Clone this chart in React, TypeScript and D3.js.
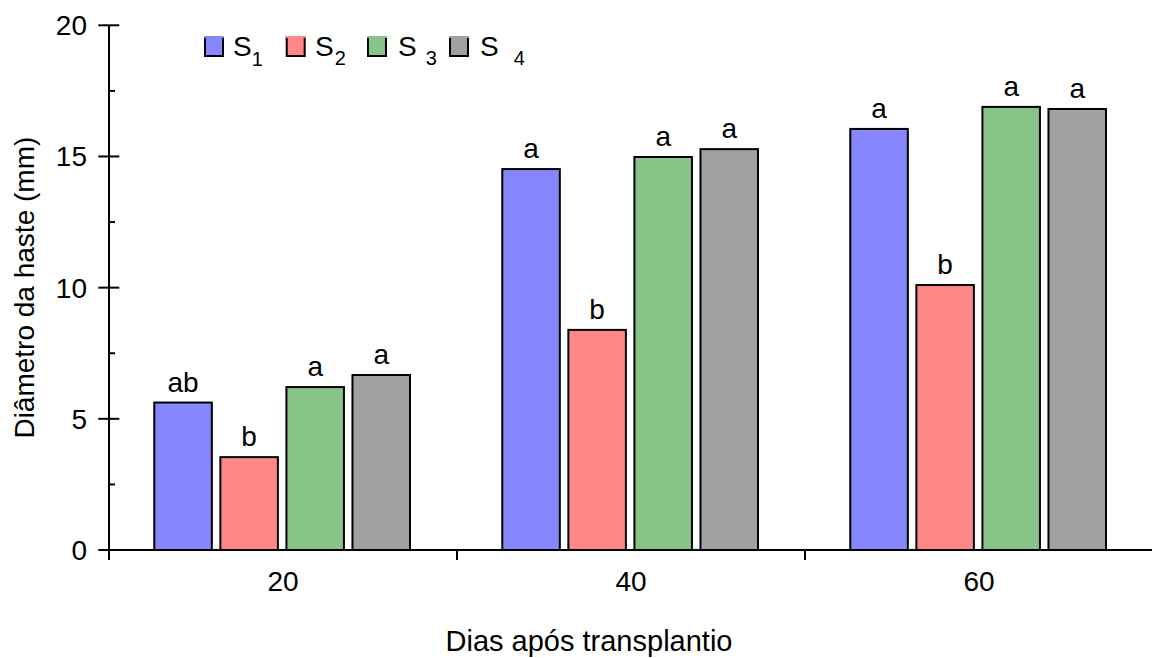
import React from "react";
import * as d3 from "d3";

// Stem diameter (mm) by days after transplanting, four substrates
const days = ["20", "40", "60"];
const seriesNames = ["S1", "S2", "S3", "S4"];
const s1Values = [5.62, 14.52, 16.05];
const s2Values = [3.54, 8.39, 10.1];
const s3Values = [6.21, 14.98, 16.89];
const s4Values = [6.67, 15.28, 16.81];
const s1Letters = ["ab", "a", "a"];
const s2Letters = ["b", "b", "b"];
const s3Letters = ["a", "a", "a"];
const s4Letters = ["a", "a", "a"];
const yTicks = [0, 5, 10, 15, 20];
const yMinorTicks = [2.5, 7.5, 12.5, 17.5];
const colors = ["#8686FF", "#FF8787", "#88C488", "#A0A0A0"];

const W = 1152;
const H = 658;
const FONT = "'Liberation Sans', Arial, sans-serif";

export default function App() {
  const values = [s1Values, s2Values, s3Values, s4Values];
  const letters = [s1Letters, s2Letters, s3Letters, s4Letters];

  const y = d3.scaleLinear().domain([0, 20]).range([550, 25.3]);
  const x0 = d3.scaleBand().domain(days).range([109, 1153]).padding(0);
  const x1 = d3
    .scaleBand()
    .domain(seriesNames)
    .range([45.3, 301])
    .paddingInner(0.129)
    .paddingOuter(0);

  const xBoundaries = [109, 457, 805, 1153];

  const legendX = [205, 286.7, 368, 450];

  return (
    <svg
      width={W}
      height={H}
      style={{ position: "fixed", left: 0, top: 0, background: "#fff" }}
      fontFamily={FONT}
    >
      <rect x={0} y={0} width={W} height={H} fill="#fff" />

      {/* bars */}
      {days.map((d, gi) => (
        <g key={d} transform={`translate(${x0(d)},0)`}>
          {seriesNames.map((s, si) => {
            const v = values[si][gi];
            const bx = x1(s)!;
            const bw = x1.bandwidth();
            return (
              <g key={s}>
                <rect
                  x={bx}
                  y={y(v)}
                  width={bw}
                  height={y(0) - y(v)}
                  fill={colors[si]}
                  stroke="#000"
                  strokeWidth={2}
                />
                <text
                  x={bx + bw / 2}
                  y={y(v) - 11}
                  textAnchor="middle"
                  fontSize={28}
                  fill="#000"
                >
                  {letters[si][gi]}
                </text>
              </g>
            );
          })}
        </g>
      ))}

      {/* y axis */}
      <line x1={109} x2={109} y1={y(20)} y2={y(0)} stroke="#000" strokeWidth={2} />
      {yTicks.map((t) => (
        <g key={t}>
          <line x1={98.3} x2={119.3} y1={y(t)} y2={y(t)} stroke="#000" strokeWidth={2} />
          <text x={87} y={y(t) + 10} textAnchor="end" fontSize={28} fill="#000">
            {t}
          </text>
        </g>
      ))}
      {yMinorTicks.map((t) => (
        <line key={t} x1={109} x2={115} y1={y(t)} y2={y(t)} stroke="#000" strokeWidth={2} />
      ))}

      {/* x axis */}
      <line x1={108} x2={1153} y1={y(0)} y2={y(0)} stroke="#000" strokeWidth={2} />
      {xBoundaries.map((b) => (
        <line key={b} x1={b} x2={b} y1={y(0)} y2={y(0) + 10} stroke="#000" strokeWidth={2} />
      ))}
      {days.map((d) => (
        <text
          key={d}
          x={x0(d)! + x0.bandwidth() / 2}
          y={591}
          textAnchor="middle"
          fontSize={28}
          fill="#000"
        >
          {d}
        </text>
      ))}

      {/* axis titles */}
      <text x={589} y={651} textAnchor="middle" fontSize={29} fill="#000">
        Dias após transplantio
      </text>
      <text
        transform={`translate(34,${(y(0) + y(20)) / 2}) rotate(-90)`}
        textAnchor="middle"
        fontSize={28}
        fill="#000"
      >
        Diâmetro da haste (mm)
      </text>

      {/* legend */}
      {seriesNames.map((s, i) => {
        const lx = legendX[i];
        return (
          <g key={s}>
            <rect x={lx} y={37} width={18} height={19} fill={colors[i]} stroke="#000" strokeWidth={2} />
            <line x1={lx - 1} x2={lx + 19} y1={37} y2={37} stroke={colors[i]} strokeWidth={2} />
          </g>
        );
      })}
      <text x={233} y={56} fontSize={28} fill="#000">
        S<tspan dx={0} dy={10} fontSize={20}>1</tspan>
      </text>
      <text x={315} y={56} fontSize={28} fill="#000">
        S<tspan dx={1} dy={9} fontSize={20}>2</tspan>
      </text>
      <text x={398} y={56} fontSize={28} fill="#000">
        S<tspan dx={9} dy={9} fontSize={20}>3</tspan>
      </text>
      <text x={480} y={56} fontSize={28} fill="#000">
        S<tspan dx={15} dy={9} fontSize={20}>4</tspan>
      </text>
    </svg>
  );
}
